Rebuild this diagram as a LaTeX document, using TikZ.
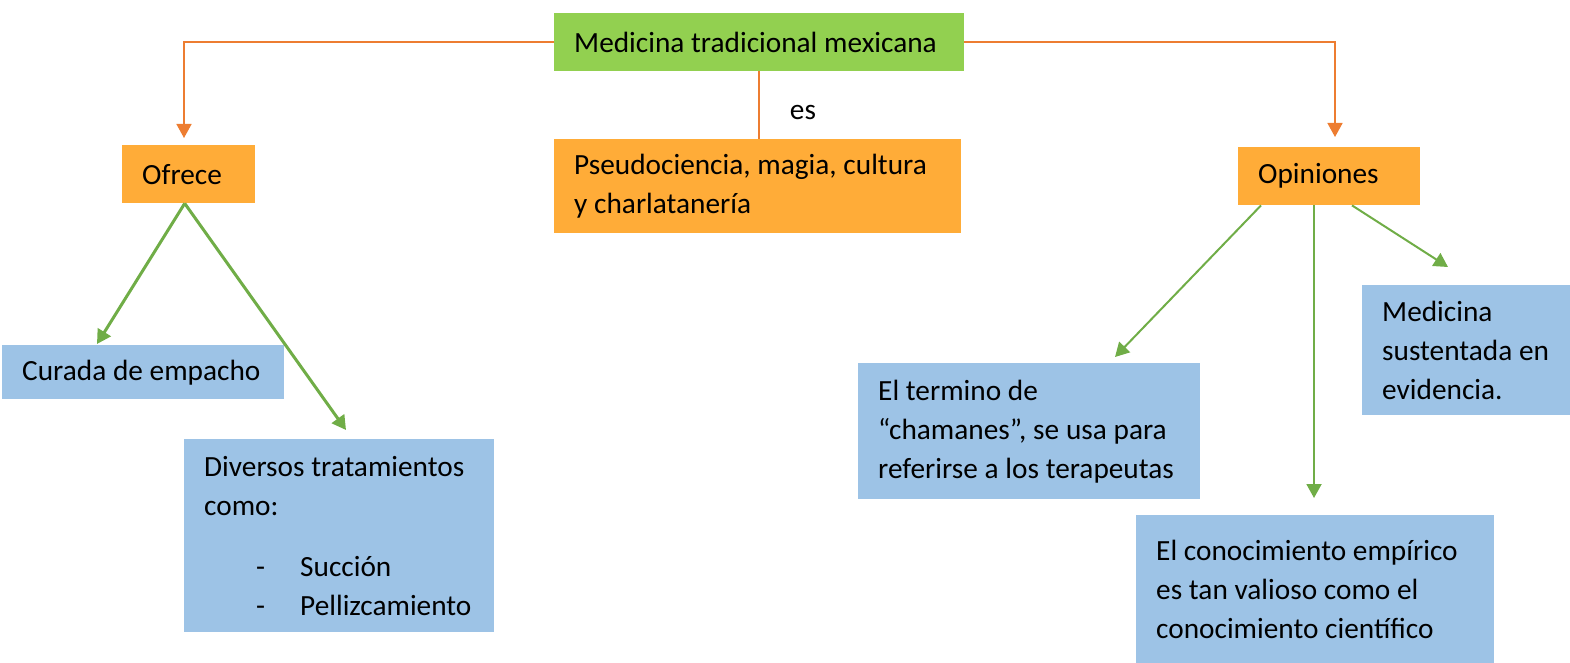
\documentclass[tikz,border=0pt]{standalone}
\usepackage{fontspec}
\setmainfont{Carlito}
\usepackage{xcolor}
\usepackage{tikz}
\usetikzlibrary{positioning,arrows.meta,calc}

\definecolor{boxgreen}{HTML}{92D050}
\definecolor{boxorange}{HTML}{FFAC38}
\definecolor{boxblue}{HTML}{9DC3E6}
\definecolor{lineorange}{HTML}{ED7D31}
\definecolor{linegreen}{HTML}{70AD47}

\newcommand{\tightspaces}{\spaceskip=0.23em plus 0.05em\relax}

\begin{document}
\begin{tikzpicture}[x=1pt,y=-1pt,
        font=\fontsize{29.3}{39}\selectfont,
        concept/.style={anchor=north west, inner xsep=20pt, inner ysep=0pt, align=flush left,
            execute at begin node=\tightspaces},
        orangeline/.style={draw=lineorange, line width=1.5pt},
        orangearrow/.style={orangeline, -{Triangle[width=15pt,length=14pt]}},
        greenarrow/.style={draw=linegreen, line width=3pt, -{Triangle[width=15pt,length=14pt]}},
        thingreen/.style={greenarrow, line width=2pt}]
    \useasboundingbox (0,0) rectangle (1570,663);

    % Top and "es"
    \node[concept, fill=boxgreen, minimum width=410pt, text width=370pt, minimum height=58pt] (medicina) at (554,13) {Medicina tradicional mexicana};
    \node[concept, fill=boxorange, minimum width=407pt, text width=367pt, minimum height=94pt] (pseudo) at (554,139) {Pseudociencia, magia, cultura\\y charlatanería};
    \node (es) at (803,113) {es};
    \draw[orangeline] (medicina.south) -- (medicina.south |- pseudo.north);

    % Left branch
    \node[concept, fill=boxorange, minimum width=133pt, text width=93pt, minimum height=58pt] (ofrece) at (122,145) {Ofrece};
    \node[concept, fill=boxblue, minimum width=282pt, text width=242pt, minimum height=54pt] (curada) at (2,345) {Curada de empacho};
    \node[concept, fill=boxblue, minimum width=310pt, text width=270pt, minimum height=193pt] (diversos) at (184,439) {Diversos tratamientos\\como:\\[22pt]
        \hspace*{52pt}\makebox[44pt][l]{-}Succión\\
        \hspace*{52pt}\makebox[44pt][l]{-}Pellizcamiento};

    \coordinate (ofreceTip) at (184,138);
    \coordinate (curadaTip) at (97,344);
    \coordinate (diversosTip) at (346,430);
    \draw[orangearrow] (medicina.west) -| (ofreceTip);
    \draw[greenarrow] ([xshift=-4pt]ofrece.south) -- (curadaTip);
    \draw[greenarrow] ([xshift=-4pt]ofrece.south) -- (diversosTip);

    % Right branch
    \node[concept, fill=boxorange, minimum width=182pt, text width=142pt, minimum height=58pt] (opiniones) at (1238,147) {Opiniones};
    \node[concept, fill=boxblue, minimum width=342pt, text width=302pt, minimum height=136pt] (termino) at (858,363) {El termino de\\“chamanes”, se usa para\\referirse a los terapeutas};
    \node[concept, fill=boxblue, minimum width=220pt, text width=180pt, minimum height=130pt] (evidencia) at (1362,285) {Medicina\\sustentada en\\evidencia.};
    \node[concept, fill=boxblue, minimum width=358pt, text width=318pt, minimum height=148pt] (empirico) at (1136,515) {El conocimiento empírico\\es tan valioso como el\\conocimiento científico};

    \coordinate (opinionesTip) at (1335,137);
    \coordinate (terminoTip) at (1115,357);
    \coordinate (empiricoTip) at (1314,498);
    \coordinate (evidenciaTip) at (1448,267);
    \draw[orangearrow] (medicina.east) -| (opinionesTip);
    \draw[thingreen] ([xshift=23pt]opiniones.south west) -- (terminoTip);
    \draw[thingreen] ([xshift=76pt]opiniones.south west) -- (empiricoTip);
    \draw[thingreen] ([xshift=114pt]opiniones.south west) -- (evidenciaTip);
\end{tikzpicture}
\end{document}
